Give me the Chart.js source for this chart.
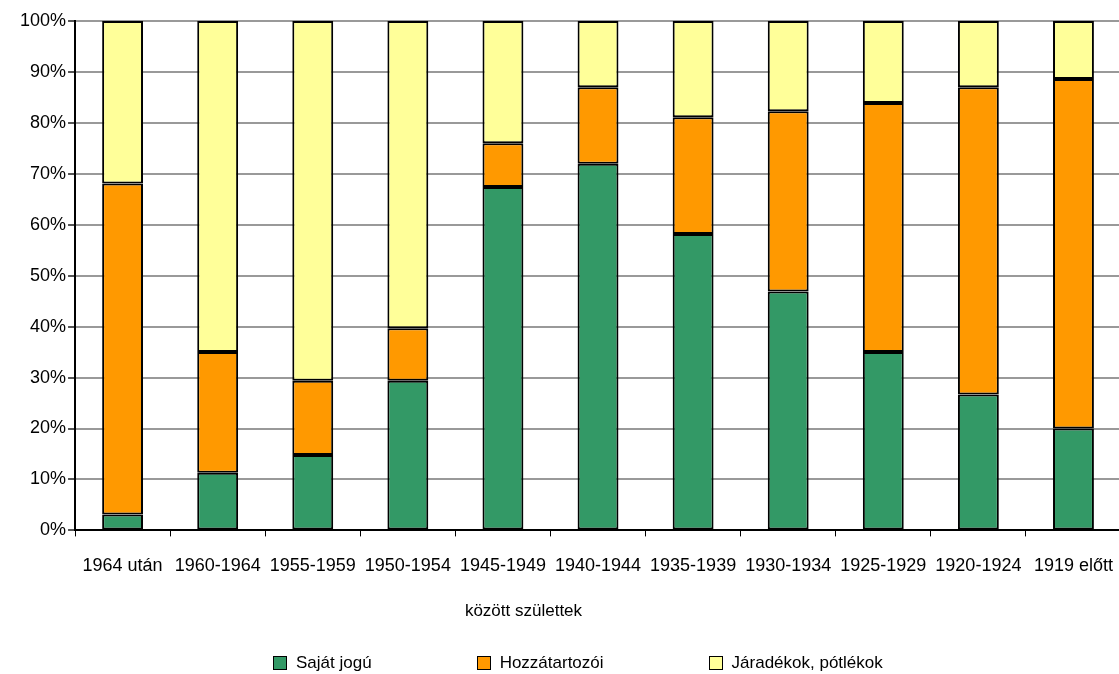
<!DOCTYPE html>
<html>
<head>
<meta charset="utf-8">
<script src="https://cdn.jsdelivr.net/npm/chart.js@4/dist/chart.umd.min.js"></script>
<style>
  body { margin: 0; background: #fff; overflow: hidden; }
  #wrap { position: relative; width: 1119px; height: 674px; overflow: hidden; font-family: "Liberation Sans", Arial, sans-serif; color: #000; }
  #chart { position: absolute; left: 0; top: 0; }
  #axisTitle { position: absolute; top: 601px; left: 0; width: 1119px; text-align: center; font-size: 17px; padding-right: 72px; box-sizing: border-box; }
  #legend { position: absolute; top: 652px; left: 273px; display: flex; gap: 105px; font-size: 17px; line-height: 22px; }
  #legend span.item { display: flex; align-items: center; }
  #legend span.box { width: 12px; height: 12px; border: 1.5px solid #000; margin-right: 9px; }
</style>
</head>
<body>
<div id="wrap">
  <canvas id="chart" width="1132" height="674"></canvas>
  <div id="axisTitle">között születtek</div>
  <div id="legend"></div>
</div>
<script>
// === Data (percent of each cohort) ===
const categories = ['1964 után', '1960-1964', '1955-1959', '1950-1954', '1945-1949', '1940-1944',
  '1935-1939', '1930-1934', '1925-1929', '1920-1924', '1919 előtt'];
const seriesNames = ['Saját jogú', 'Hozzátartozói', 'Járadékok, pótlékok'];
const sajatJogu = [3.1, 11.3, 14.8, 29.4, 67.4, 72.0, 58.2, 46.9, 35.0, 26.7, 20.0];
const hozzatartozoi = [65.0, 23.7, 14.6, 10.3, 8.6, 15.0, 22.9, 35.4, 48.9, 60.3, 68.6];
const jaradekok = [31.9, 65.0, 70.6, 60.3, 24.0, 13.0, 18.9, 17.7, 16.1, 13.0, 11.4];
const colors = ['#339966', '#FF9900', '#FFFF99'];

document.addEventListener('DOMContentLoaded', function () {

  // === build the stacked bar datasets ===
  const values = [sajatJogu, hozzatartozoi, jaradekok];
  const datasets = values.map((vals, i) => ({
    label: seriesNames[i],
    data: vals,
    backgroundColor: colors[i],
    borderColor: '#000',
    borderWidth: 2,
    borderSkipped: false,
    barPercentage: 0.43,
    categoryPercentage: 1
  }));

  const font = { family: '"Liberation Sans", Arial, sans-serif', size: 18 };

  // canvas is a bit wider than the page so the plot runs to the right edge
  new Chart(document.getElementById('chart'), {
    type: 'bar',
    data: { labels: categories, datasets: datasets },
    options: {
      responsive: false,
      animation: false,
      layout: { padding: { top: 21, left: 18, right: 0, bottom: 78 } },
      plugins: {
        legend: { display: false },
        tooltip: { enabled: false }
      },
      scales: {
        x: {
          stacked: true,
          grid: { drawOnChartArea: false, tickLength: 6, tickColor: '#000', offset: true },
          border: { color: '#000', width: 2 },
          ticks: { color: '#000', font: font, padding: 19, maxRotation: 0, autoSkip: false }
        },
        y: {
          stacked: true,
          min: 0,
          max: 100,
          grid: { color: '#999', lineWidth: 2, tickLength: 7, tickColor: '#555' },
          border: { color: '#000', width: 2 },
          ticks: { stepSize: 10, color: '#000', font: font, padding: 2, callback: v => v + '%' }
        }
      }
    }
  });

  // === legend, laid out like the original ===
  const legend = document.getElementById('legend');
  seriesNames.forEach((name, i) => {
    const item = document.createElement('span');
    item.className = 'item';
    const box = document.createElement('span');
    box.className = 'box';
    box.style.background = colors[i];
    item.appendChild(box);
    item.appendChild(document.createTextNode(name));
    legend.appendChild(item);
  });

});
</script>
</body>
</html>
